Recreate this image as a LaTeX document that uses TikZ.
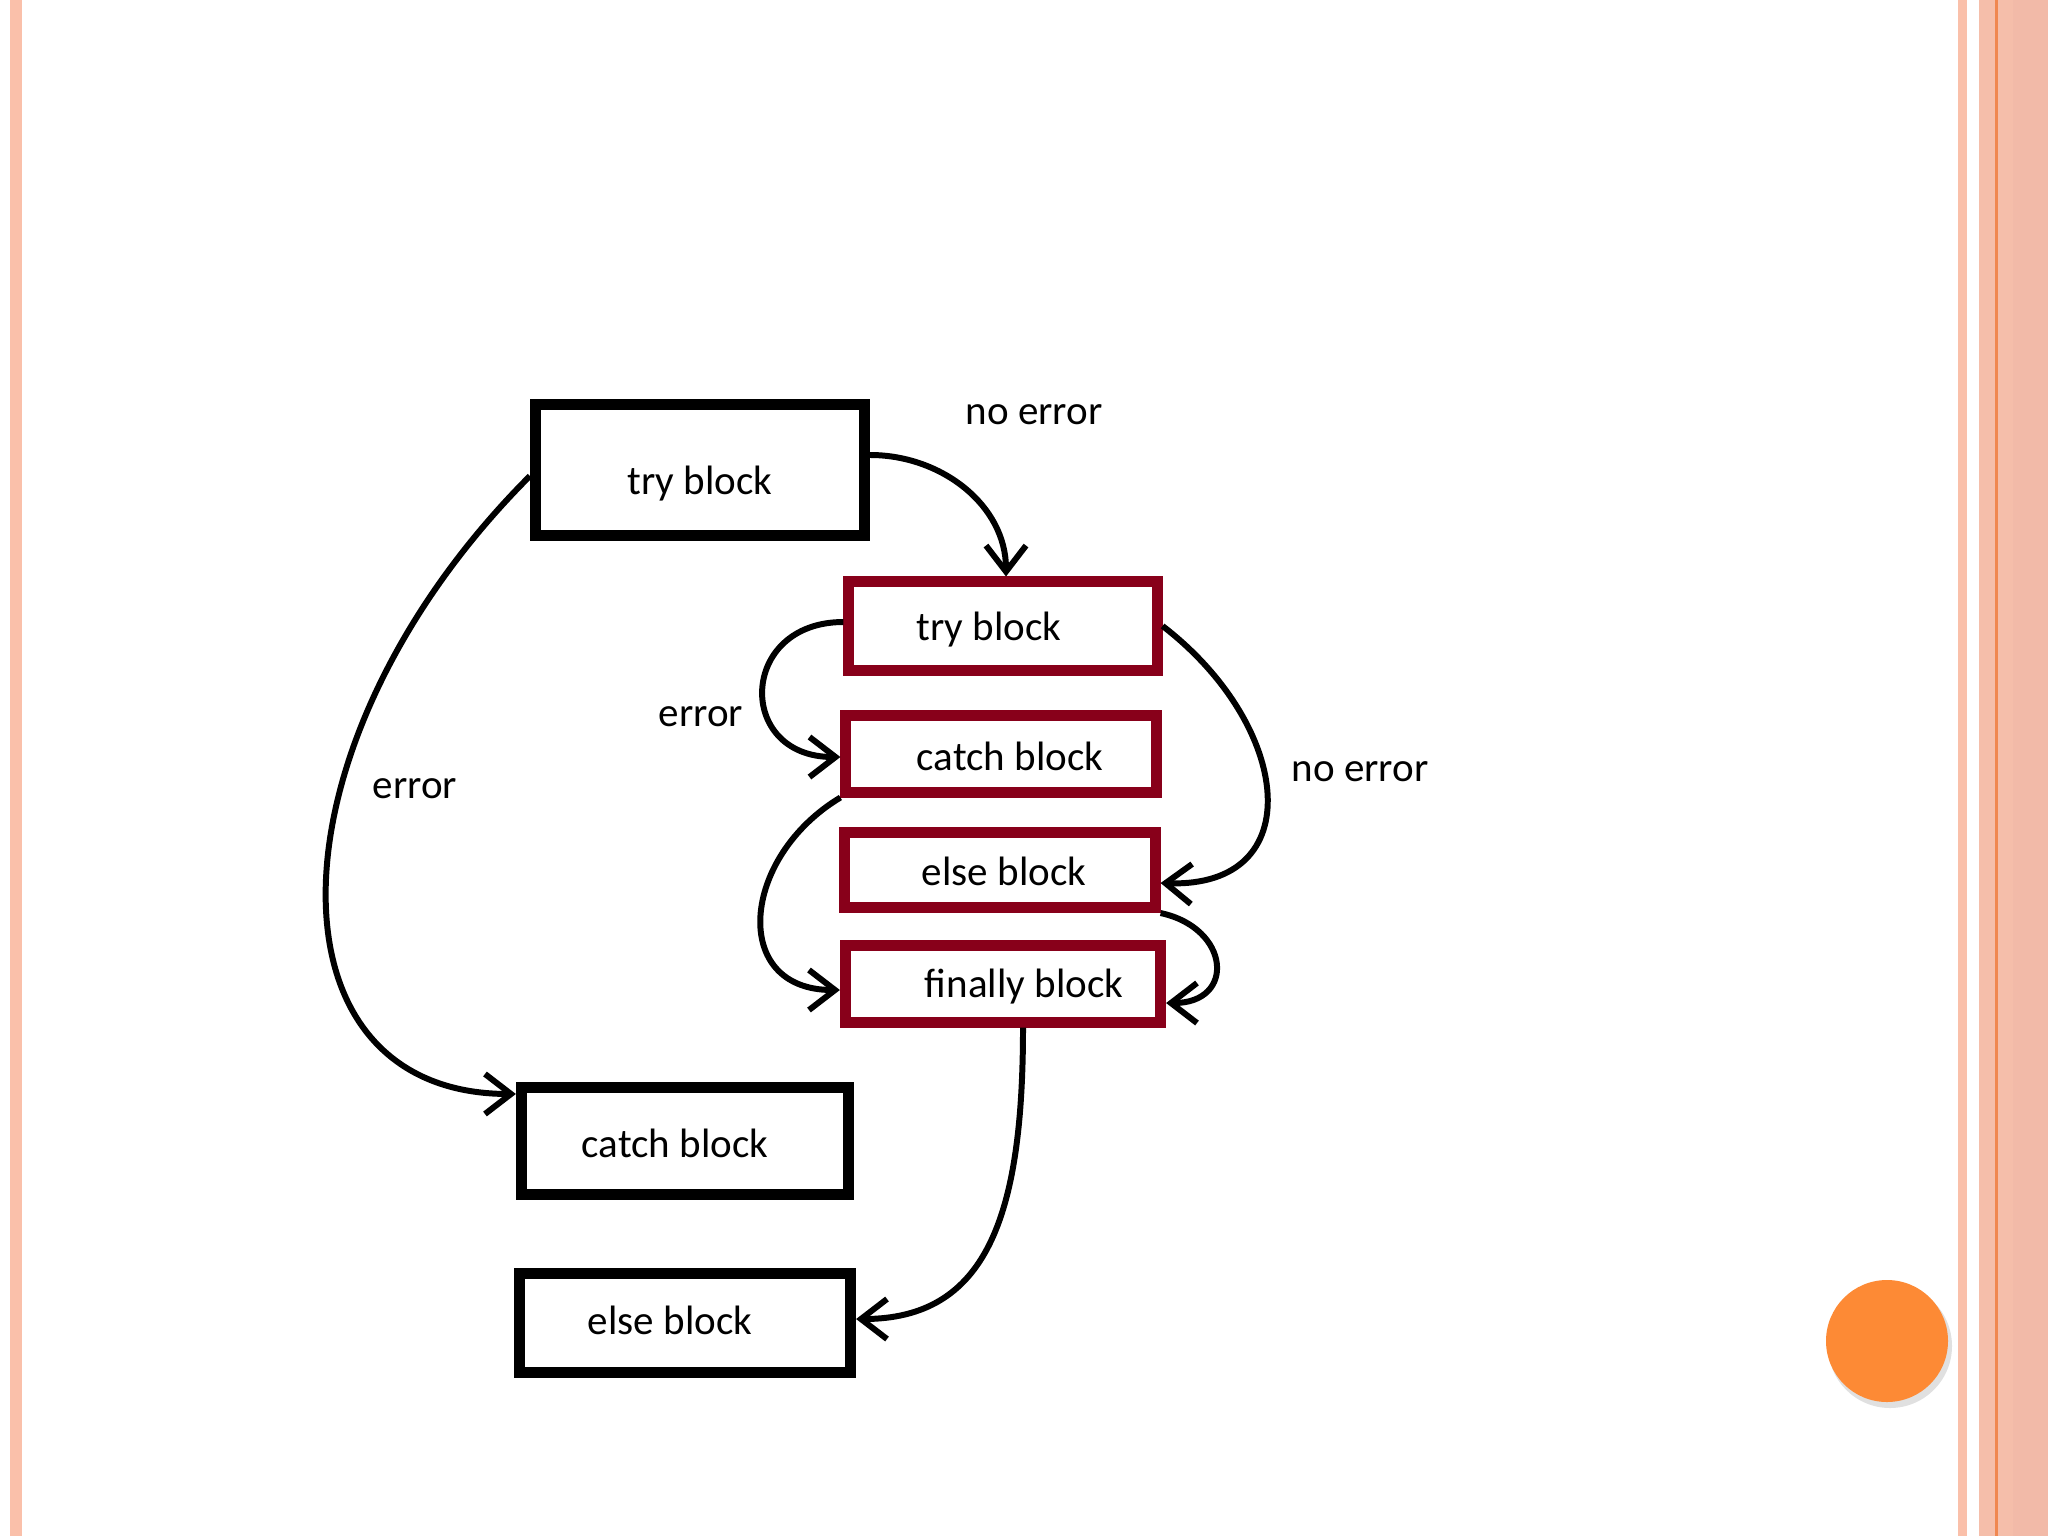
\documentclass[tikz,border=0pt]{standalone}
\usepackage{fontspec}
\setmainfont{Carlito}
\usetikzlibrary{arrows.meta}
\definecolor{boxred}{RGB}{136,0,26}
\definecolor{stripA}{RGB}{250,192,170}
\definecolor{stripB}{RGB}{245,190,170}
\definecolor{stripC}{RGB}{242,186,168}
\definecolor{stripLine}{RGB}{240,135,80}
\definecolor{dotorange}{RGB}{253,138,53}
\begin{document}
\begin{tikzpicture}[x=0.01cm,y=-0.01cm,
  blk/.style={draw=black,line width=0.11cm,inner sep=0pt,fill=white},
  redb/.style={draw=boxred,line width=0.11cm,inner sep=0pt,fill=white},
  conn/.style={line width=1.7pt,-{Straight Barb[length=0.26cm,width=0.40cm]}},
  lbl/.style={font=\fontsize{11.67pt}{14pt}\selectfont,inner sep=0pt}
]
\useasboundingbox (0,0) rectangle (2048,1536);
\fill[white] (0,0) rectangle (2048,1536);
% page decoration
\fill[stripA] (10,0) rectangle (22,1536);
\fill[stripA] (1958,0) rectangle (1967,1536);
\fill[stripB] (1979,0) rectangle (2048,1536);
\fill[stripC] (2013,0) rectangle (2048,1536);
\fill[stripLine] (1995,0) rectangle (1998,1536);
\fill[black,opacity=0.12] (1890,1346) circle (62);
\fill[dotorange] (1887,1341) node (dot) {} circle (61);

% boxes
\node[blk,minimum width=3.29cm,minimum height=1.31cm,
  label={[lbl,xshift=0cm,yshift=-0.14cm]center:try block}] (tb) at (700,470) {};
\node[redb,minimum width=3.08cm,minimum height=0.88cm,
  label={[lbl,xshift=-0.14cm,yshift=-0.04cm]center:try block}] (rt) at (1003,626) {};
\node[redb,minimum width=3.10cm,minimum height=0.76cm,
  label={[lbl,xshift=0.09cm,yshift=-0.02cm]center:catch block}] (rc) at (1001,754) {};
\node[redb,minimum width=3.10cm,minimum height=0.75cm,
  label={[lbl,xshift=0.04cm,yshift=-0.01cm]center:else block}] (re) at (1000,870) {};
\node[redb,minimum width=3.15cm,minimum height=0.76cm,
  label={[lbl,xshift=0.21cm,yshift=-0.03cm]center:finally block}] (rf) at (1003,984) {};
\node[blk,minimum width=3.27cm,minimum height=1.06cm,
  label={[lbl,xshift=-0.10cm,yshift=-0.02cm]center:catch block}] (bc) at (685,1141) {};
\node[blk,minimum width=3.31cm,minimum height=0.98cm,
  label={[lbl,xshift=-0.15cm,yshift=0.03cm]center:else block}] (be) at (685,1323) {};

% labels
\node[lbl] (l1) at (1034,415) {no error};
\node[lbl] (l2) at (701,717) {error};
\node[lbl] (l3) at (415,789) {error};
\node[lbl] (l4) at (1360,772) {no error};

% connectors
\draw[conn] ([yshift=0.15cm]tb.east) to[out=0,in=90] ([xshift=0.03cm]rt.north);
\draw[conn] ([yshift=-0.06cm]tb.west) .. controls +(-265,265) and +(-258,0) .. ([yshift=0.47cm]bc.west);
\draw[conn] ([yshift=0.04cm]rt.west) .. controls +(-105,0) and +(-105,0) .. ([yshift=-0.03cm]rc.west);
\draw[conn] (rc.south west) .. controls +(-100,60) and +(-110,0) .. ([yshift=-0.06cm]rf.west);
\draw[conn] (rt.east) .. controls +(130,100) and +(150,5) .. ([yshift=-0.13cm]re.east);
\draw[conn] (re.south east) .. controls +(70,15) and +(70,0) .. ([yshift=-0.19cm]rf.east);
\draw[conn] ([xshift=0.2cm]rf.south) .. controls +(0,190) and +(130,0) .. ([yshift=0.04cm]be.east);
\end{tikzpicture}
\end{document}
